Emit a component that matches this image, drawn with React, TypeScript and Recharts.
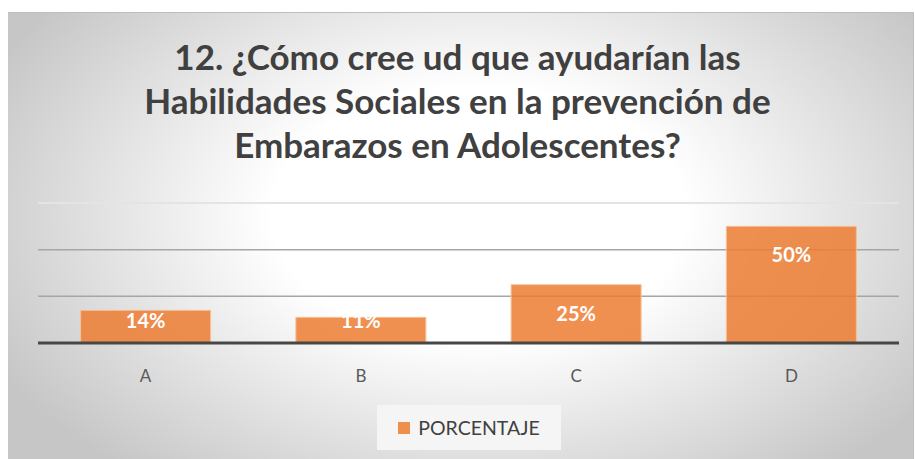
import { Bar, BarChart, CartesianGrid, LabelList, Legend, ReferenceLine, XAxis, YAxis } from "recharts";

const categories = ["A", "B", "C", "D"];
const porcentaje = [14, 11, 25, 50];
const yTicks = [0, 20, 40, 60];
const titleLines = [
  "12. ¿Cómo cree ud que ayudarían las",
  "Habilidades Sociales en la prevención de",
  "Embarazos en Adolescentes?",
];

const data = categories.map((c, i) => ({ name: c, PORCENTAJE: porcentaje[i] }));

const FONT = "Lato, 'Open Sans', sans-serif";

const renderLabel = (props: any) => {
  const { x, y, width, height, value } = props;
  const cy = Math.min(y + 28, y + height - 23);
  return (
    <text
      x={x + width / 2}
      y={cy}
      textAnchor="middle"
      dominantBaseline="central"
      fill="#ffffff"
      fontFamily={FONT}
      fontWeight={700}
      fontSize={20}
    >
      {value}%
    </text>
  );
};

const renderLegend = () => (
  <div
    style={{
      width: 184,
      height: 45,
      background: "#f5f5f5",
      display: "flex",
      alignItems: "center",
      justifyContent: "center",
      fontFamily: FONT,
      fontSize: 19.5,
      color: "#404040",
    }}
  >
    <span style={{ width: 12, height: 12, background: "#ef8f4e", display: "inline-block", marginRight: 8 }} />
    PORCENTAJE
  </div>
);

export default function App() {
  return (
    <div style={{ position: "absolute", left: 0, top: 0, width: 915, height: 459, background: "#fff", overflow: "hidden" }}>
      <div
        style={{
          position: "absolute",
          left: 8,
          top: 12,
          width: 905,
          height: 447,
          borderTop: "1px solid #bdbdbd",
          borderRight: "1px solid #bdbdbd",
          background: "radial-gradient(ellipse 60% 75% at 52% 45%, #ffffff 38%, #c6c6c6 100%)",
        }}
      />
      <div
        style={{
          position: "absolute",
          left: 0,
          top: 34,
          width: 915,
          textAlign: "center",
          fontFamily: FONT,
          fontWeight: 700,
          fontSize: 35,
          lineHeight: "44px",
          color: "#404040",
        }}
      >
        {titleLines.map((t) => (
          <div key={t}>{t}</div>
        ))}
      </div>
      <div style={{ position: "absolute", left: 0, top: 0 }}>
        <BarChart
          width={915}
          height={459}
          data={data}
          margin={{ top: 203, right: 16, left: 38, bottom: 86 }}
          barCategoryGap="19.8%"
        >
          <CartesianGrid vertical={false} stroke="#a6a6a6" strokeWidth={1.5} />
          <YAxis hide domain={[0, 60]} ticks={yTicks} />
          <XAxis
            dataKey="name"
            height={30}
            tickLine={false}
            axisLine={{ stroke: "#474747", strokeWidth: 3 }}
            tick={{ fill: "#595959", fontSize: 17, fontFamily: FONT }}
            tickMargin={21}
          />
          <ReferenceLine y={60} stroke="#e4e4e4" strokeWidth={2} />
          <Legend
            layout="horizontal"
            verticalAlign="middle"
            align="center"
            content={renderLegend}
            wrapperStyle={{ position: "absolute", left: 377, top: 405, width: 184 }}
          />
          <Bar
            dataKey="PORCENTAJE"
            fill="#ED7D31"
            fillOpacity={0.85}
            stroke="#f6c09a"
            strokeWidth={1}
            isAnimationActive={false}
          >
            <LabelList dataKey="PORCENTAJE" content={renderLabel} />
          </Bar>
        </BarChart>
      </div>
    </div>
  );
}
